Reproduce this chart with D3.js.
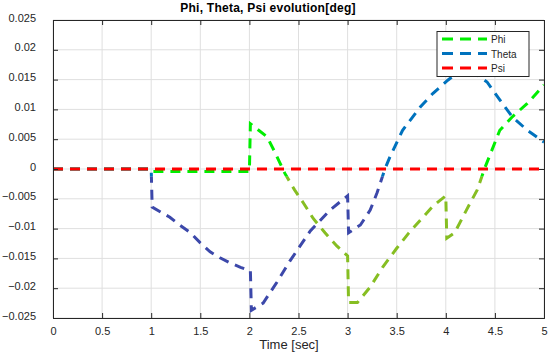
<!DOCTYPE html>
<html>
<head>
<meta charset="utf-8">
<script src="https://cdn.jsdelivr.net/npm/d3@7"></script>
<style>
  body { margin: 0; background: #fff; }
  text { font-family: "Liberation Sans", Arial, Helvetica, sans-serif; }
</style>
</head>
<body>
<div id="chart"></div>
<script>
// values
let xTicks = [0, 0.5, 1, 1.5, 2, 2.5, 3, 3.5, 4, 4.5, 5];
let yTicks = [-0.025, -0.02, -0.015, -0.01, -0.005, 0, 0.005, 0.01, 0.015, 0.02, 0.025];

let phiTime = [0, 1, 1.01, 2.0, 2.01, 2.18, 2.26, 2.36, 2.46, 2.55, 2.65, 2.77, 2.89, 3.0, 3.01, 3.1, 3.23, 3.36, 3.5, 3.62, 3.74, 3.87, 4.0, 4.01, 4.09, 4.21, 4.32, 4.4, 4.55, 4.68, 4.83, 5.0];
let phiValues = [0, 0, -0.0004, -0.0004, 0.0076, 0.0054, 0.0028, -0.0007, -0.0035, -0.0057, -0.0083, -0.0107, -0.0129, -0.0146, -0.0224, -0.0224, -0.0198, -0.0164, -0.0133, -0.0108, -0.0086, -0.0062, -0.0045, -0.0116, -0.0107, -0.0069, -0.0035, 0.0003, 0.0065, 0.0088, 0.011, 0.0141];

let thetaTime = [0, 1.0, 1.01, 1.19, 1.29, 1.40, 1.50, 1.60, 1.70, 1.81, 1.91, 2.01, 2.02, 2.14, 2.28, 2.41, 2.62, 2.82, 3.0, 3.01, 3.13, 3.23, 3.30, 3.38, 3.43, 3.56, 3.74, 3.87, 4.02, 4.2, 4.42, 4.55, 4.68, 4.83, 5.0];
let thetaValues = [0, 0, -0.0064, -0.0081, -0.0094, -0.0107, -0.0124, -0.0139, -0.0149, -0.0158, -0.0165, -0.0171, -0.0237, -0.0225, -0.019, -0.0155, -0.0104, -0.0069, -0.0045, -0.0107, -0.0094, -0.0069, -0.004, 0.0, 0.002, 0.0065, 0.0104, 0.0127, 0.0149, 0.0172, 0.0146, 0.0116, 0.0087, 0.0065, 0.0045];

let psiTime = [0, 5];
let psiValues = [0, 0];

let seriesNames = ["Phi", "Theta", "Psi"];

let series = [
    { name: "Phi", t: phiTime, v: phiValues, color: "#00ee00", lowColor: "#86be22" },
    { name: "Theta", t: thetaTime, v: thetaValues, color: "#0072bd", lowColor: "#3c48aa" },
    { name: "Psi", t: psiTime, v: psiValues, color: "#ff0000", lowColor: "#ff0000" }
];

let svg = d3.select('#chart')
    .append('svg')
    .attr('width', 550)
    .attr('height', 353);

let margin = { top: 20, right: 6, bottom: 35, left: 53 };
let width = +svg.attr('width');
let height = +svg.attr('height');

let x = d3.scaleLinear()
    .domain([0, 5])
    .range([margin.left, width - margin.right]);

let y = d3.scaleLinear()
    .domain([-0.025, 0.025])
    .range([height - margin.bottom, margin.top]);

let axisColor = "#262626";

// grid
svg.append('g')
    .selectAll('line')
    .data(xTicks)
    .enter().append('line')
    .attr('x1', d => x(d)).attr('x2', d => x(d))
    .attr('y1', y(0.025)).attr('y2', y(-0.025))
    .attr('stroke', '#dfdfdf')
    .attr('stroke-width', 1);

svg.append('g')
    .selectAll('line')
    .data(yTicks)
    .enter().append('line')
    .attr('x1', x(0)).attr('x2', x(5))
    .attr('y1', d => y(d)).attr('y2', d => y(d))
    .attr('stroke', '#dfdfdf')
    .attr('stroke-width', 1);

// clip regions: the lower part of the picture has shifted colours
let cutY = y(-0.0013);
let defs = svg.append('defs');
defs.append('clipPath').attr('id', 'clip-top')
    .append('rect')
    .attr('x', x(0)).attr('y', y(0.025))
    .attr('width', x(5) - x(0)).attr('height', cutY - y(0.025));
defs.append('clipPath').attr('id', 'clip-low')
    .append('rect')
    .attr('x', x(0)).attr('y', cutY)
    .attr('width', x(5) - x(0)).attr('height', y(-0.025) - cutY + 3);

let line = d3.line()
    .x(d => x(d[0]))
    .y(d => y(d[1]));

let dash = '10,7';

series.forEach(function(s) {
    let pts = s.t.map((t, i) => [t, s.v[i]]);
    svg.append('path')
        .datum(pts)
        .attr('d', line)
        .attr('fill', 'none')
        .attr('stroke', s.color)
        .attr('stroke-width', 3)
        .attr('stroke-dasharray', dash)
        .attr('clip-path', 'url(#clip-top)');
    svg.append('path')
        .datum(pts)
        .attr('d', line)
        .attr('fill', 'none')
        .attr('stroke', s.lowColor)
        .attr('stroke-width', 3)
        .attr('stroke-dasharray', dash)
        .attr('clip-path', 'url(#clip-low)');
});

// axes (ticks inside, box on all sides)
let xAxis = d3.axisBottom(x).tickValues(xTicks).tickSize(-5).tickPadding(9).tickFormat(d3.format('~g'));
let yAxis = d3.axisLeft(y).tickValues(yTicks).tickSize(-5).tickPadding(17).tickFormat(d3.format('~g'));

let gx = svg.append('g')
    .attr('transform', `translate(0,${y(-0.025)})`)
    .call(xAxis);
let gy = svg.append('g')
    .attr('transform', `translate(${x(0)},0)`)
    .call(yAxis);
let gxTop = svg.append('g')
    .attr('transform', `translate(0,${y(0.025)})`)
    .call(d3.axisTop(x).tickValues(xTicks).tickSize(-5).tickFormat(''));
let gyRight = svg.append('g')
    .attr('transform', `translate(${x(5)},0)`)
    .call(d3.axisRight(y).tickValues(yTicks).tickSize(-5).tickFormat(''));

[gx, gy, gxTop, gyRight].forEach(function(g) {
    g.selectAll('path').attr('stroke', axisColor).attr('stroke-width', 1);
    g.selectAll('line').attr('stroke', axisColor);
    g.selectAll('text')
        .attr('fill', axisColor)
        .style('font-size', '11px')
        .style('font-family', '"Liberation Sans", Arial, sans-serif');
});
gy.selectAll('text').attr('dy', '0.1em');

// title and x label
svg.append('text')
    .attr('x', 268)
    .attr('y', 12)
    .attr('text-anchor', 'middle')
    .style('font-size', '12px')
    .style('letter-spacing', '0.25px')
    .style('font-weight', 'bold')
    .attr('fill', '#000')
    .text('Phi, Theta, Psi evolution[deg]');

svg.append('text')
    .attr('x', 289)
    .attr('y', 349)
    .attr('text-anchor', 'middle')
    .style('font-size', '13px')
    .attr('fill', axisColor)
    .text('Time [sec]');

// legend
let legend = svg.append('g');
legend.append('rect')
    .attr('x', 437).attr('y', 31.5)
    .attr('width', 92).attr('height', 45)
    .attr('fill', '#fff')
    .attr('stroke', axisColor)
    .attr('stroke-width', 1);

seriesNames.forEach(function(name, i) {
    let s = series[i];
    let ly = 39 + i * 14.5;
    legend.append('line')
        .attr('x1', 442).attr('x2', 487)
        .attr('y1', ly).attr('y2', ly)
        .attr('stroke', s.color)
        .attr('stroke-width', 3)
        .attr('stroke-dasharray', '11,7');
    legend.append('text')
        .attr('x', 491)
        .attr('y', ly + 4)
        .style('font-size', '10px')
        .attr('fill', axisColor)
        .text(name);
});
</script>
</body>
</html>
